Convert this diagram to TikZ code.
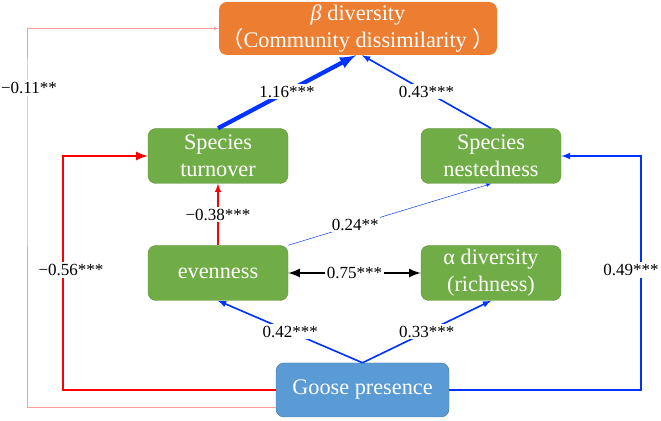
\documentclass[tikz,border=0pt]{standalone}
\usepackage{fontspec}
\setmainfont{Liberation Serif}
\newfontfamily\cjk{Noto Sans CJK SC}
\usetikzlibrary{calc}
\definecolor{boxgreen}{HTML}{70AD47}
\definecolor{boxorange}{HTML}{ED7D31}
\definecolor{boxblue}{HTML}{5B9BD5}
\definecolor{pathblue}{HTML}{0033FF}
\definecolor{pathred}{HTML}{FF0000}
\definecolor{pathpink}{HTML}{FF9D9D}

\begin{document}
\begin{tikzpicture}[x=0.3mm,y=-0.3mm,
    box/.style={rounded corners=2.4mm,text=white,align=center,inner sep=0pt,
      font=\fontsize{19}{23}\selectfont,minimum width=42mm,minimum height=16.5mm},
    green box/.style={box,fill=boxgreen,draw=boxgreen!85!black,thin},
    lbl/.style={fill=white,text=black,inner sep=1.5pt,font=\fontsize{14.5}{17}\selectfont}]
  \useasboundingbox (0,0) rectangle (661,421);

  \node[box,fill=boxorange,minimum width=83.4mm,minimum height=15.9mm] (beta) at (358,28.5)
    {{\itshape β} diversity\\{\cjk （}Community dissimilarity {\cjk ）}};
  \node[green box] (turnover) at (218,156) {Species\\turnover};
  \node[green box] (nestedness) at (491,156) {Species\\nestedness};
  \node[green box] (evenness) at (218,273) {evenness};
  \node[green box] (alpha) at (491,273) {α diversity\\(richness)};
  \node[box,fill=boxblue,draw=boxblue!75!black,thin,minimum width=51.9mm,minimum height=16.2mm] (goose) at (362.5,390)
    {Goose presence};

  \draw[pathpink,thin,-latex] ($(goose.west)+(0,17)$) -| (27,88) node[lbl,xshift=0.6mm] (l011) {−0.11**} |- (beta.west);
  \draw[pathred,line width=2.4pt,-latex] (goose.west) -| (63,270) node[lbl,xshift=2.4mm] (l056) {−0.56***} |- (turnover.west);
  \draw[pathblue,line width=1.6pt,-latex] (goose.east) -| (641,270) node[lbl,xshift=-3mm] (l049) {0.49***} |- (nestedness.east);

  \draw[pathred,line width=1.4pt,-latex] (evenness.north) -- (turnover.south) node[lbl,midway] (l038) {−0.38***};
  \draw[pathblue,line width=3.6pt,-latex] (turnover.north) -- ($(beta.south)+(-2,0)$) node[lbl,midway] (l116) {1.16***};
  \draw[pathblue,line width=1.4pt,-latex] (nestedness.north) -- ($(beta.south)+(4,0)$) node[lbl,midway] (l043) {0.43***};
  \draw[pathblue,thin,-latex] (evenness.north east) -- (nestedness.south) node[lbl,pos=0.33] (l024) {0.24**};
  \draw[black,line width=2.4pt,latex-latex] (evenness) -- (alpha) node[lbl,midway] (l075) {0.75***};
  \draw[pathblue,line width=1.4pt,-latex] (goose.north) -- (evenness.south) node[lbl,midway] (l042) {0.42***};
  \draw[pathblue,line width=1.4pt,-latex] (goose.north) -- (alpha.south) node[lbl,midway] (l033) {0.33***};
\end{tikzpicture}
\end{document}
